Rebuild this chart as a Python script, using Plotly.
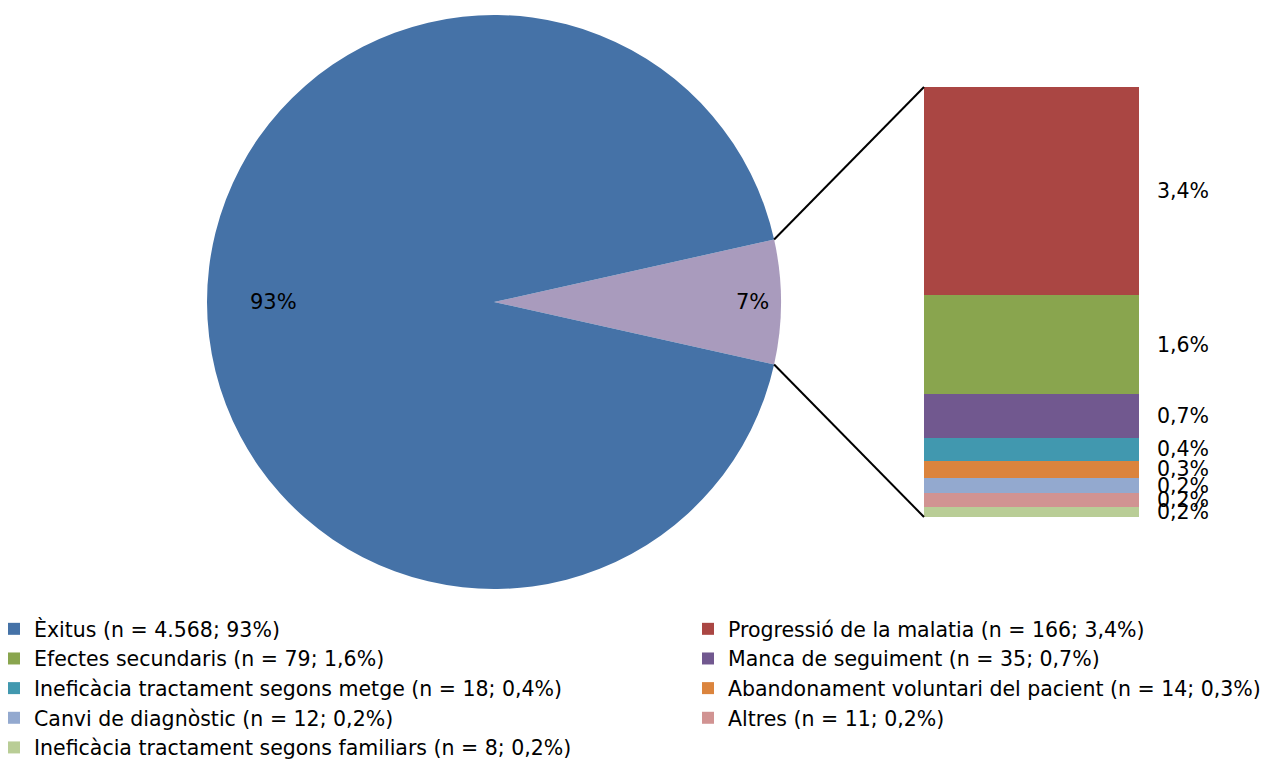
import math
import plotly.graph_objects as go

# ---- data ----
main_label = "Èxitus"
main_n = 4568
bar_labels = [
    "Progressió de la malatia",
    "Efectes secundaris",
    "Manca de seguiment",
    "Ineficàcia tractament segons metge",
    "Abandonament voluntari del pacient",
    "Canvi de diagnòstic",
    "Altres",
    "Ineficàcia tractament segons familiars",
]
bar_n = [166, 79, 35, 18, 14, 12, 11, 8]

main_color = "#4572A7"
other_color = "#A99BBD"
bar_colors = ["#AA4643", "#89A54E", "#71588F", "#4198AF",
              "#DB843D", "#93A9CF", "#D19392", "#B9CD96"]

# ---- geometry (page pixels) ----
W, H = 1283, 759
OFF = 8  # default page body margin
FONT = "DejaVu Sans, Liberation Sans, sans-serif"
FS = 20.5
LFS = 20.5
cx, cy, R = 494, 302, 287
bar_x0, bar_x1 = 924, 1139
bar_y0, bar_y1 = 87, 517

def px(x):
    return (x - OFF) / W

def py(y):
    return 1 - (y - OFF) / H

other_n = sum(bar_n)
total = main_n + other_n

def fmt(v, dec):
    s = f"{v:.{dec}f}".replace(".", ",")
    return s + "%"

half_angle = 360 * other_n / total / 2

fig = go.Figure()

fig.add_trace(go.Pie(
    labels=["Altres motius", main_label],
    values=[other_n, main_n],
    sort=False,
    direction="clockwise",
    rotation=90 - half_angle,
    marker=dict(colors=[other_color, main_color], line=dict(width=0)),
    textinfo="none",
    showlegend=False,
    hoverinfo="label+value+percent",
    domain=dict(x=[px(cx - R), px(cx + R)], y=[py(cy + R), py(cy - R)]),
))

# legend entry for main category (zero-height bar, no visual effect)
fig.add_trace(go.Bar(
    x=[0], y=[0],
    name=f"{main_label} (n = {main_n:,}; {100*main_n/total:.0f}%)".replace(",", "."),
    marker=dict(color=main_color, line=dict(width=0)),
    hoverinfo="skip", legend="legend",
))

for i, (lab, n, col) in enumerate(zip(bar_labels, bar_n, bar_colors)):
    # legend entries alternate between the two columns (row-major order)
    leg = "legend2" if i % 2 == 0 else "legend"
    fig.add_trace(go.Bar(
        x=[0], y=[n],
        name=f"{lab} (n = {n}; {fmt(100*n/total, 1)})",
        marker=dict(color=col, line=dict(width=0)),
        width=1, legend=leg,
        hovertemplate=f"{lab}: {n}<extra></extra>",
    ))

# bar labels
annotations = []
cum = 0
for n in bar_n:
    annotations.append(dict(
        x=0.5, y=cum + n / 2, xref="x", yref="y",
        text=fmt(100 * n / total, 1), showarrow=False,
        xanchor="left", yanchor="middle", xshift=16,
        font=dict(family=FONT, size=FS, color="#000000"),
    ))
    cum += n

# pie labels
for frac, ang, val in [(0.77, 180, main_n), (0.9, 0, other_n)]:
    lx = cx + frac * R * math.cos(math.radians(ang))
    annotations.append(dict(
        x=px(lx), y=py(cy), xref="paper", yref="paper",
        text=f"{100*val/total:.0f}%", showarrow=False,
        xanchor="center", yanchor="middle",
        font=dict(family=FONT, size=21, color="#000000"),
    ))

# connector lines
ex = cx + R * math.cos(math.radians(half_angle))
ey_top = cy - R * math.sin(math.radians(half_angle))
ey_bot = cy + R * math.sin(math.radians(half_angle))
shapes = [
    dict(type="line", xref="paper", yref="paper",
         x0=px(ex), y0=py(ey_top), x1=px(bar_x0), y1=py(bar_y0),
         line=dict(color="#000000", width=2)),
    dict(type="line", xref="paper", yref="paper",
         x0=px(ex), y0=py(ey_bot), x1=px(bar_x0), y1=py(bar_y1),
         line=dict(color="#000000", width=2)),
]

legend_common = dict(
    orientation="v", yanchor="top", xanchor="left",
    font=dict(family=FONT, size=LFS, color="#000000"),
    itemwidth=30, traceorder="normal", tracegroupgap=0,
    bgcolor="rgba(0,0,0,0)", borderwidth=0,
)

fig.update_layout(
    width=W, height=H,
    margin=dict(l=0, r=0, t=0, b=0, autoexpand=False),
    paper_bgcolor="white", plot_bgcolor="white",
    barmode="stack", bargap=0,
    xaxis=dict(domain=[px(bar_x0), px(bar_x1)], range=[-0.5, 0.5],
               visible=False, fixedrange=True),
    yaxis=dict(domain=[py(bar_y1), py(bar_y0)], range=[other_n, 0],
               visible=False, fixedrange=True),
    showlegend=True,
    legend=dict(x=px(-6), y=py(609), **legend_common),
    legend2=dict(x=px(688), y=py(609), **legend_common),
    annotations=annotations,
    shapes=shapes,
    font=dict(family=FONT, size=FS),
)

fig.write_html("out.html")
